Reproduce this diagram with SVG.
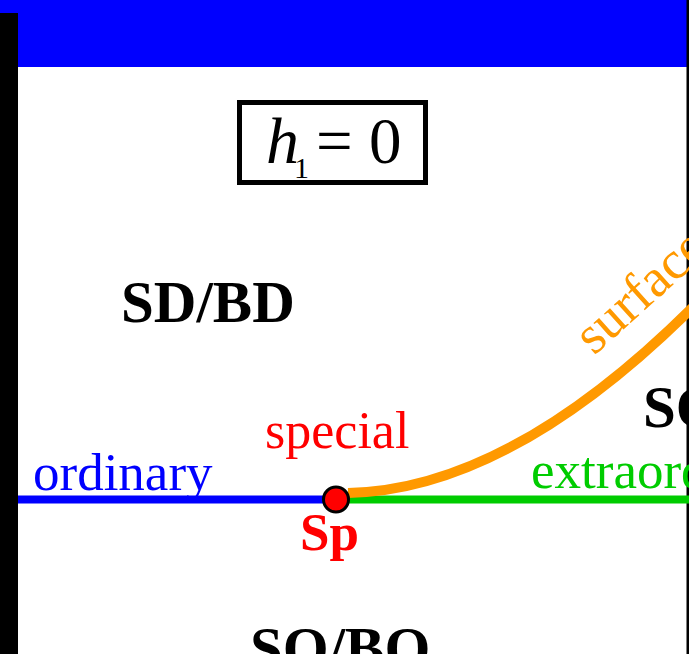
<svg xmlns="http://www.w3.org/2000/svg" width="689" height="654" viewBox="0 0 689 654">
<style>
.rm{font-family:"Liberation Serif","Times New Roman",serif;}
.bd{font-family:"Liberation Serif","Times New Roman",serif;font-weight:bold;fill:#000;}
</style>
<rect width="689" height="654" fill="#fff"/>
<g id="frame">
<rect x="0" y="0" width="689" height="67" fill="#0000ff"/>
<rect x="0" y="13" width="18" height="641" fill="#000"/>
<rect x="686.5" y="0" width="2.5" height="654" fill="#000"/>
</g>
<g id="label-h1">
<rect x="239.5" y="102.5" width="186" height="80" fill="#fff" stroke="#000" stroke-width="5"/>
<text class="rm" x="266" y="163" font-size="66" font-style="italic" fill="#000">h</text>
<text class="rm" x="294" y="178" font-size="30" fill="#000">1</text>
<text class="rm" x="316" y="163" font-size="65" fill="#000">= 0</text>
</g>
<g id="connectors">
<line x1="18" y1="499.5" x2="336" y2="499.5" stroke="#0000ff" stroke-width="8"/>
<line x1="336" y1="499.5" x2="689" y2="499.5" stroke="#00cc00" stroke-width="8"/>
<path d="M348,493 Q510,490 696,304" fill="none" stroke="#ff9900" stroke-width="10"/>
</g>
<g id="node-sp">
<circle cx="336" cy="499.5" r="12.5" fill="#ff0000" stroke="#000" stroke-width="3"/>
<text class="bd" x="300" y="550" font-size="53" style="fill:#ff0000">Sp</text>
</g>
<g id="labels">
<text class="bd" x="121" y="322" font-size="59">SD/BD</text>
<text class="bd" x="643" y="427" font-size="59">SO</text>
<text class="bd" x="250" y="668" font-size="59">SO/BO</text>
<text class="rm" x="265" y="448" font-size="52" fill="#ff0000">special</text>
<text class="rm" x="33" y="490" font-size="53" fill="#0000ff">ordinary</text>
<text class="rm" x="531" y="488" font-size="53" fill="#00cc00">extraordinary</text>
<text class="rm" x="594" y="356" font-size="54" fill="#ff9900" transform="rotate(-42 594 356)">surface</text>
</g>
</svg>
